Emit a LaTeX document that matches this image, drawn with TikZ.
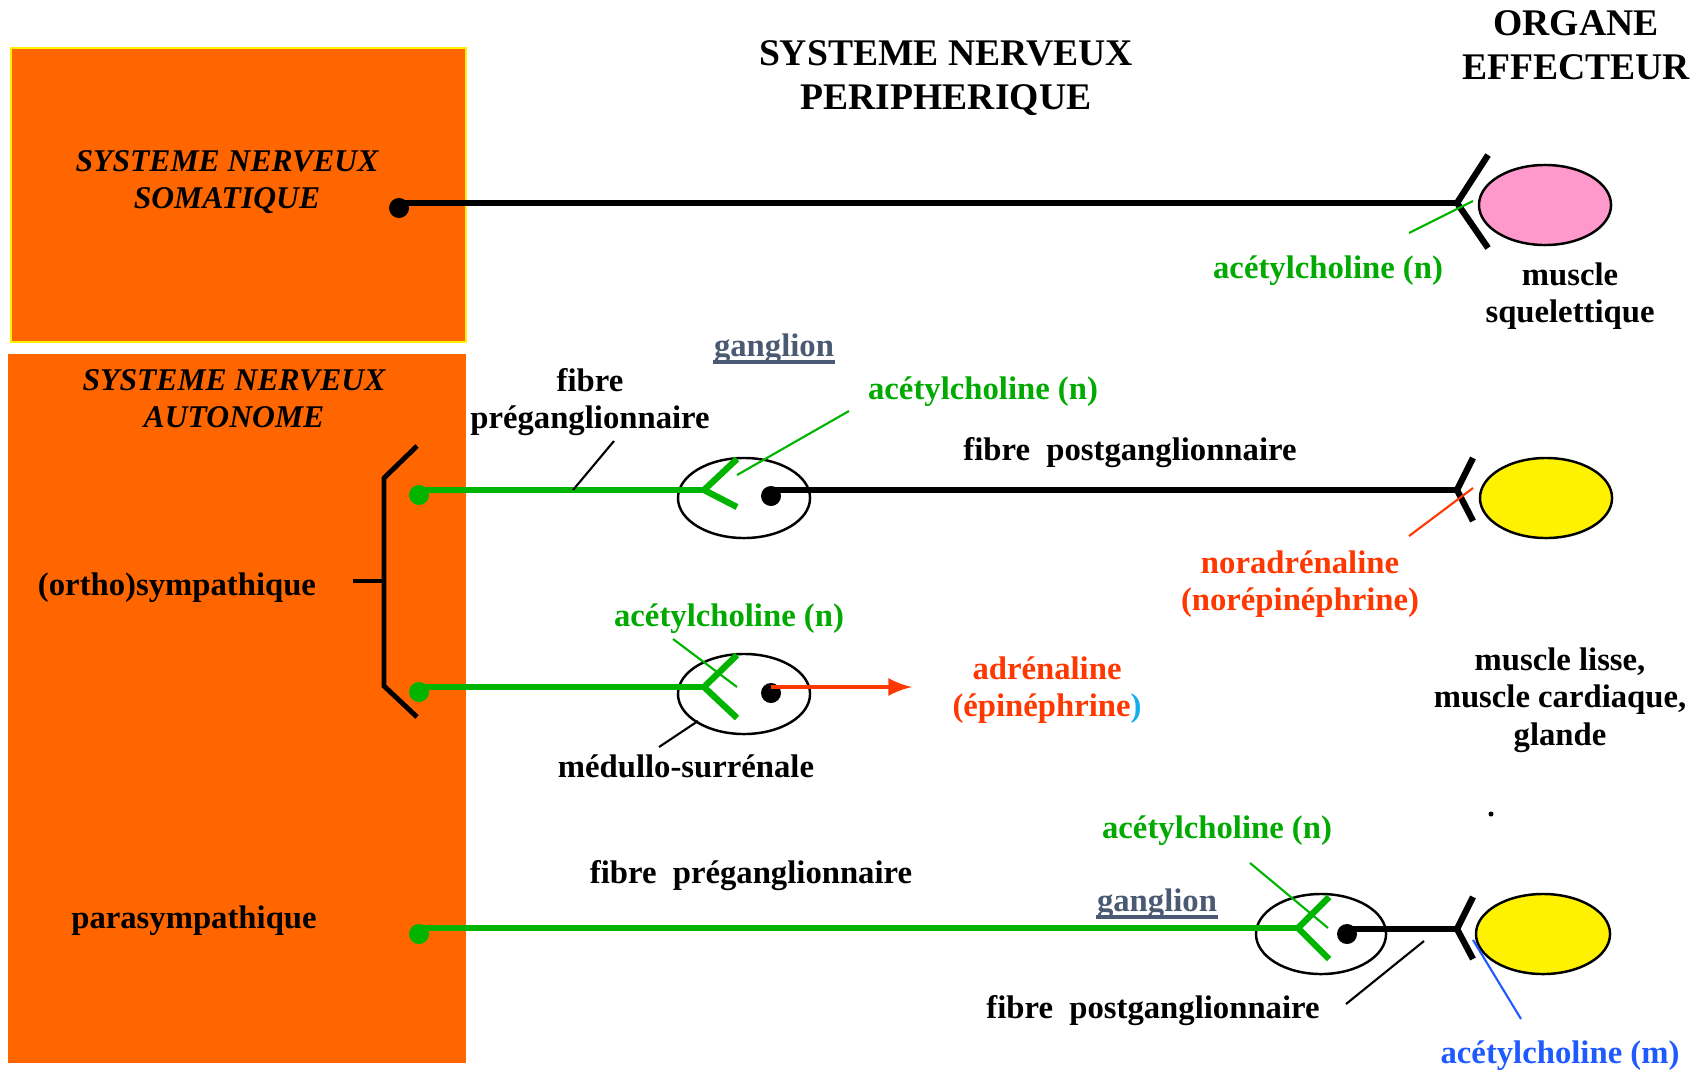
\documentclass[tikz,border=0pt]{standalone}
\usepackage{fontspec}
\setmainfont{Liberation Serif}
\usepackage{tikz}
\usetikzlibrary{shapes,positioning}
\usepackage{xcolor}
\definecolor{boxorange}{RGB}{255,102,0}
\definecolor{fibgreen}{RGB}{0,180,0}
\definecolor{txtgreen}{RGB}{0,170,0}
\definecolor{txtred}{RGB}{255,55,0}
\definecolor{txtblue}{RGB}{30,90,255}
\definecolor{parcyan}{RGB}{20,175,235}
\definecolor{gangray}{RGB}{75,90,115}
\definecolor{musclepink}{RGB}{255,153,204}

\begin{document}
\begin{tikzpicture}[x=0.01cm,y=-0.01cm]
    %styles
    \tikzstyle{title}=[font=\bfseries\fontsize{10.7}{12.5}\selectfont,align=center,inner sep=0pt]
    \tikzstyle{ititle}=[font=\bfseries\itshape\fontsize{9}{10.6}\selectfont,align=center,inner sep=0pt]
    \tikzstyle{txt}=[font=\bfseries\fontsize{9.3}{10.6}\selectfont,align=center,inner sep=0pt]
    \tikzstyle{nerve}=[line width=1.6pt]
    \tikzstyle{fork}=[line width=1.8pt,line join=round]
    \tikzstyle{ptr}=[line width=0.6pt]
    \tikzstyle{uline}=[line width=1pt,gangray]
    \tikzstyle{gdot}=[circle,fill=fibgreen,inner sep=0pt,minimum size=0.2cm]
    \tikzstyle{kdot}=[circle,fill=black,inner sep=0pt,minimum size=0.2cm]
    \tikzstyle{gang}=[ellipse,draw,line width=0.7pt,fill=white,inner sep=0pt]
    \tikzstyle{organ}=[ellipse,draw,line width=0.7pt,inner sep=0pt,minimum width=1.32cm,minimum height=0.8cm]
    \tikzstyle{release}=[->,>=latex,line width=1.3pt,txtred]
    \useasboundingbox (0,0) rectangle (1707,1070);

    %central nervous system boxes
    \fill[boxorange,draw=yellow,line width=0.8pt] (11,48) rectangle (466,342);
    \fill[boxorange] (8,354) rectangle (466,1063);

    %titles
    \node[title] (snp) at (946,78) {SYSTEME NERVEUX\\PERIPHERIQUE};
    \node[title] (org) at (1576,45) {ORGANE\\EFFECTEUR};
    \node[ititle] (snsom) at (227,182) {SYSTEME NERVEUX\\SOMATIQUE};
    \node[ititle] (snaut) at (234,399) {SYSTEME NERVEUX\\AUTONOME};
    \node[txt] (ortho) at (177,588) {(ortho)sympathique};
    \node[txt] (para) at (194,921) {parasympathique};

    %somatic pathway
    \node[kdot] (dsom) at (399,208) {};
    \coordinate (s1) at (1457,203);
    \coordinate (s1u) at (1488,155);
    \coordinate (s1d) at (1488,248);
    \node[organ,fill=musclepink] (msq) at (1545,205) {};
    \node[txt,txtgreen] (ach1) at (1328,271) {acétylcholine (n)};
    \coordinate (ach1p) at (1409,233);
    \coordinate (ach1q) at (1473,201);
    \node[txt] (squel) at (1570,296) {muscle\\squelettique};

    %sympathetic pathway
    \node[gdot] (d1) at (419,495) {};
    \node[gdot] (d2) at (419,692) {};
    \node[gang,minimum width=1.32cm,minimum height=0.8cm] (g1) at (744,498) {};
    \node[gang,minimum width=1.32cm,minimum height=0.8cm] (g2) at (744,694) {};
    \coordinate (f1) at (704,490);
    \coordinate (f1u) at (737,459);
    \coordinate (f1d) at (737,507);
    \coordinate (f2) at (704,687);
    \coordinate (f2u) at (737,655);
    \coordinate (f2d) at (737,718);
    \node[kdot] (k1) at (771,496) {};
    \node[kdot] (k2) at (771,693) {};
    \coordinate (s2) at (1457,490);
    \coordinate (s2u) at (1473,458);
    \coordinate (s2d) at (1473,521);
    \node[organ,fill=yellow] (eff1) at (1546,498) {};
    \coordinate (adr) at (912,687);

    %parasympathetic pathway
    \node[gdot] (d3) at (419,934) {};
    \node[gang,minimum width=1.3cm,minimum height=0.8cm] (g3) at (1321,934) {};
    \coordinate (f3) at (1298,928);
    \coordinate (f3u) at (1329,897);
    \coordinate (f3d) at (1329,959);
    \node[kdot] (k3) at (1347,934) {};
    \coordinate (s3) at (1457,929);
    \coordinate (s3u) at (1473,897);
    \coordinate (s3d) at (1473,959);
    \node[organ,fill=yellow,minimum width=1.34cm] (eff2) at (1543,934) {};

    %bracket of the sympathetic outputs
    \coordinate (bt) at (384,478);
    \coordinate (bb) at (384,686);
    \coordinate (bm) at (384,581);
    \coordinate (btt) at (417,446);
    \coordinate (bbb) at (417,717);
    \coordinate (bl) at (353,581);
    \draw[line width=1.4pt] (btt) -- (bt) -- (bb) -- (bbb);
    \draw[line width=1.2pt] (bl) -- (bm);

    %labels
    \node[txt] (fpre1) at (590,402) {fibre\\préganglionnaire};
    \node[txt,gangray] (gl1) at (774,349) {ganglion};
    \node[txt,txtgreen] (ach2) at (983,392) {acétylcholine (n)};
    \node[txt] (fpost1) at (1130,453) {fibre~ postganglionnaire};
    \node[txt,txtred] (nora) at (1300,584) {noradrénaline\\(norépinéphrine)};
    \node[txt,txtgreen] (ach3) at (729,619) {acétylcholine (n)};
    \node[txt,txtred] (adrl) at (1047,690) {adrénaline\\(épinéphrine{\color{parcyan})}};
    \node[txt] (medul) at (686,766) {médullo-surrénale};
    \node[txt] (lisse) at (1560,700) {muscle lisse,\\muscle cardiaque,\\glande};
    \node[txt] (fpre2) at (751,876) {fibre~ préganglionnaire};
    \node[txt,gangray] (gl2) at (1157,904) {ganglion};
    \node[txt,txtgreen] (ach4) at (1217,831) {acétylcholine (n)};
    \node[txt] (fpost2) at (1153,1011) {fibre~ postganglionnaire};
    \node[txt,txtblue] (achm) at (1560,1056) {acétylcholine (m)};
    \node[circle,fill=black,inner sep=0pt,minimum size=0.05cm] (spk) at (1491,814) {};
    \draw[uline] ([yshift=0.8pt]gl1.south west) -- ([yshift=0.8pt]gl1.south east);
    \draw[uline] ([yshift=0.8pt]gl2.south west) -- ([yshift=0.8pt]gl2.south east);

    %pointer ends
    \coordinate (p1a) at (573,490);
    \coordinate (p1b) at (614,441);
    \coordinate (p2a) at (849,411);
    \coordinate (p2b) at (737,475);
    \coordinate (p3a) at (1409,536);
    \coordinate (p3b) at (1473,488);
    \coordinate (p4a) at (673,639);
    \coordinate (p4b) at (737,687);
    \coordinate (p5a) at (698,721);
    \coordinate (p5b) at (659,747);
    \coordinate (p6a) at (1250,863);
    \coordinate (p6b) at (1328,928);
    \coordinate (p7a) at (1424,941);
    \coordinate (p7b) at (1346,1004);
    \coordinate (p8a) at (1473,940);
    \coordinate (p8b) at (1521,1019);

    %fibres
    \draw[nerve] (dsom |- s1) -- (s1);
    \draw[fork] (s1u) -- (s1) -- (s1d);
    \draw[nerve,fibgreen] (d1 |- f1) -- (f1);
    \draw[fork,fibgreen] (f1u) -- (f1) -- (f1d);
    \draw[nerve] (k1 |- s2) -- (s2);
    \draw[fork] (s2u) -- (s2) -- (s2d);
    \draw[nerve,fibgreen] (d2 |- f2) -- (f2);
    \draw[fork,fibgreen] (f2u) -- (f2) -- (f2d);
    \draw[release] (k2 |- adr) -- (adr);
    \draw[nerve,fibgreen] (d3 |- f3) -- (f3);
    \draw[fork,fibgreen] (f3u) -- (f3) -- (f3d);
    \draw[nerve] (k3 |- s3) -- (s3);
    \draw[fork] (s3u) -- (s3) -- (s3d);

    %pointers
    \draw[ptr,fibgreen] (ach1p) -- (ach1q);
    \draw[ptr] (p1a) -- (p1b);
    \draw[ptr,fibgreen] (p2a) -- (p2b);
    \draw[ptr,txtred] (p3a) -- (p3b);
    \draw[ptr,fibgreen] (p4a) -- (p4b);
    \draw[ptr] (p5a) -- (p5b);
    \draw[ptr,fibgreen] (p6a) -- (p6b);
    \draw[ptr] (p7a) -- (p7b);
    \draw[ptr,txtblue] (p8a) -- (p8b);
\end{tikzpicture}
\end{document}
